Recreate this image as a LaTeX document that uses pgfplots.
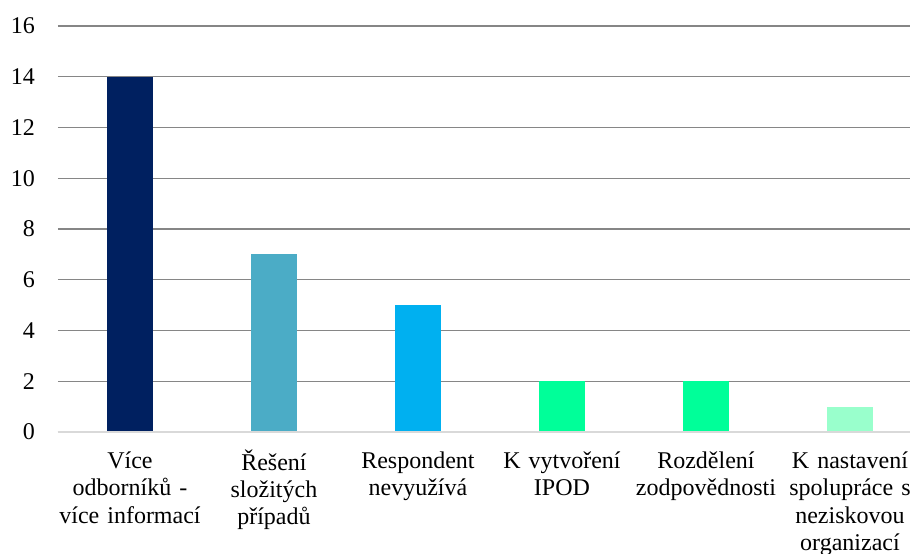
\documentclass[border=0pt]{standalone}
\usepackage{pgfplots}
\pgfplotsset{compat=1.18}
\usepackage{fontspec}
\setmainfont{LiberationSerif}[Extension=.ttf, UprightFont=*-Regular, BoldFont=*-Bold, ItalicFont=*-Italic, BoldItalicFont=*-BoldItalic]
\definecolor{c1}{HTML}{002060}
\definecolor{c2}{HTML}{4BACC6}
\definecolor{c3}{HTML}{00B0F0}
\definecolor{c4}{HTML}{00FF99}
\definecolor{c5}{HTML}{00FF99}
\definecolor{c6}{HTML}{99FFCC}
\definecolor{gridc}{HTML}{868686}
\definecolor{basec}{HTML}{D9D9D9}
\begin{document}
\begin{tikzpicture}
\begin{axis}[
  scale only axis,
  width=852pt, height=406pt,
  xmin=-0.5, xmax=5.417,
  ymin=0, ymax=16,
  ytick={0,2,...,16},
  xtick={0,1,2,3,4,5},
  xticklabels={{\strut Více\\odborníků -\\více informací},{\strut Řešení\\složitých\\případů},{\strut Respondent\\nevyužívá},{\strut K vytvoření\\IPOD},{\strut Rozdělení\\zodpovědnosti},{\strut K nastavení\\spolupráce s\\neziskovou\\organizací}},
  axis line style={draw=none},
  major tick length=0pt,
  ymajorgrids,
  grid style={gridc, line width=1.2pt},
  /pgf/number format/assume math mode=true,
  tick label style={font=\rmfamily\fontsize{24}{27.2}\selectfont},
  yticklabel style={anchor=east, inner sep=0pt, xshift=-23pt},
  xticklabel style={anchor=north, inner sep=0pt, text width=160pt, align=center, yshift=-17.5pt},
  ybar, bar width=46pt,
  every axis plot/.append style={draw=none, bar shift=0pt},
  clip=false,
]
\addplot[fill=c1] coordinates {(0,14)};
\addplot[fill=c2] coordinates {(1,7)};
\addplot[fill=c3] coordinates {(2,5)};
\addplot[fill=c4] coordinates {(3,2)};
\addplot[fill=c5] coordinates {(4,2)};
\addplot[fill=c6] coordinates {(5,1)};
\draw[basec, line width=1.5pt] (rel axis cs:0,0) -- (rel axis cs:1,0);
\coordinate (bl) at (rel axis cs:0,0);
\end{axis}
\pgfresetboundingbox
\useasboundingbox (bl) ++(-58pt,-122pt) rectangle ++(910pt,554pt);
\end{tikzpicture}
\end{document}
